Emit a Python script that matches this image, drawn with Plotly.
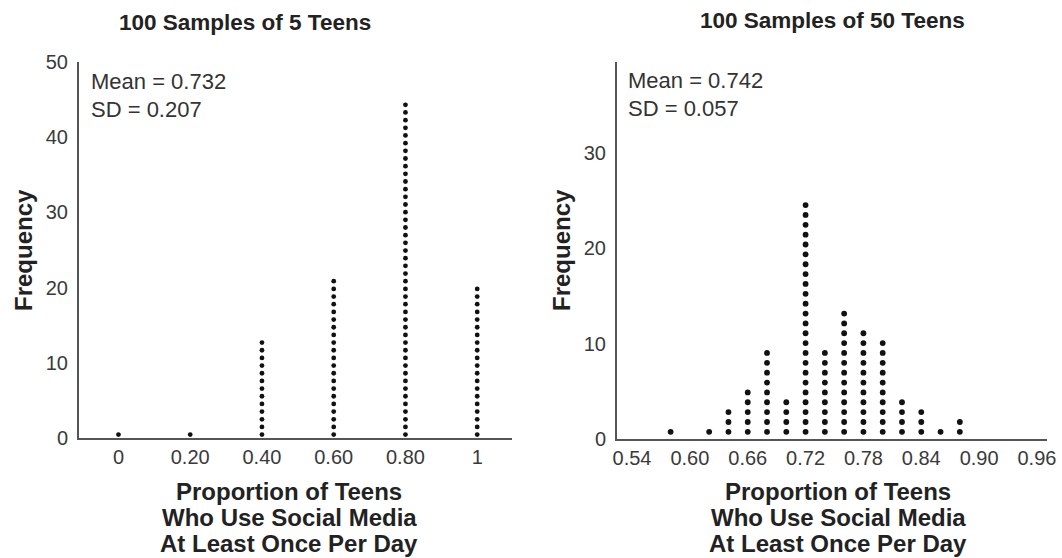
import plotly.graph_objects as go

# ---- data ----
left_x = [0.0, 0.2, 0.4, 0.6, 0.8, 1.0]
left_counts = [1, 1, 13, 21, 44, 20]
left_ticks = [0, 0.2, 0.4, 0.6, 0.8, 1.0]
left_ticklabels = ["0", "0.20", "0.40", "0.60", "0.80", "1"]

right_x = [0.58, 0.62, 0.64, 0.66, 0.68, 0.70, 0.72, 0.74, 0.76, 0.78, 0.80, 0.82, 0.84, 0.86, 0.88]
right_counts = [1, 1, 3, 5, 9, 4, 24, 9, 13, 11, 10, 4, 3, 1, 2]
right_ticks = [0.54, 0.60, 0.66, 0.72, 0.78, 0.84, 0.90, 0.96]
right_ticklabels = ["0.54", "0.60", "0.66", "0.72", "0.78", "0.84", "0.90", "0.96"]

left_yticks = [0, 10, 20, 30, 40, 50]
right_yticks = [0, 10, 20, 30]

left_title = "100 Samples of 5 Teens"
right_title = "100 Samples of 50 Teens"
left_stats = ["Mean = 0.732", "SD = 0.207"]
right_stats = ["Mean = 0.742", "SD = 0.057"]
x_title_lines = ["Proportion of Teens", "Who Use Social Media", "At Least Once Per Day"]
y_title = "Frequency"

W, H = 1062, 558


def stack(xs, counts, offset, step):
    px, py = [], []
    for x, c in zip(xs, counts):
        for k in range(c):
            px.append(x)
            py.append(offset + k * step)
    return px, py


lx, ly = stack(left_x, left_counts, 0.45, 1.02)
rx, ry = stack(right_x, right_counts, 0.75, 1.033)

fig = go.Figure()
fig.add_trace(go.Scatter(x=lx, y=ly, mode="markers", xaxis="x", yaxis="y",
                         marker=dict(color="#111", size=4.8, line=dict(width=0)),
                         showlegend=False, hoverinfo="skip"))
fig.add_trace(go.Scatter(x=rx, y=ry, mode="markers", xaxis="x2", yaxis="y2",
                         marker=dict(color="#111", size=5.8, line=dict(width=0)),
                         showlegend=False, hoverinfo="skip"))


def px2fx(p):
    return p / W


def px2fy(p):
    return 1 - p / H


FAM = "Liberation Sans, Arial, sans-serif"
tickfont = dict(family=FAM, size=20, color="#3a3a3a")
axline = dict(showline=True, linecolor="#555", linewidth=2, showgrid=False,
              zeroline=False, ticks="", tickfont=tickfont, automargin=False)

fig.update_layout(
    template="none",
    width=W, height=H, margin=dict(l=0, r=0, t=0, b=0, autoexpand=False),
    paper_bgcolor="white", plot_bgcolor="white",
    xaxis=dict(domain=[px2fx(79), px2fx(512)], range=[-0.11, 1.097],
               tickvals=left_ticks, ticktext=left_ticklabels, anchor="y",
               ticklabelstandoff=0, **axline),
    yaxis=dict(domain=[px2fy(438), px2fy(62)], range=[0, 50],
               tickvals=left_yticks, anchor="x",
               ticklabelstandoff=5, **axline),
    xaxis2=dict(domain=[px2fx(617), px2fx(1047)], range=[0.5244, 0.9704],
                tickvals=right_ticks, ticktext=right_ticklabels, anchor="y2",
                ticklabelstandoff=0, **axline),
    yaxis2=dict(domain=[px2fy(439), px2fy(62)], range=[0, 39.5],
                tickvals=right_yticks, anchor="x2",
                ticklabelstandoff=5, **axline),
)

titlefont = dict(family=FAM, size=22.5, color="#222")
axtitlefont = dict(family=FAM, size=24, color="#222")
regular = dict(family=FAM, size=22, color="#333")

ann = []
# titles
ann.append(dict(text="<b>%s</b>" % left_title, x=px2fx(245), y=px2fy(22), xref="paper", yref="paper",
                showarrow=False, font=titlefont, xanchor="center", yanchor="middle"))
ann.append(dict(text="<b>%s</b>" % right_title, x=px2fx(832), y=px2fy(21), xref="paper", yref="paper",
                showarrow=False, font=titlefont, xanchor="center", yanchor="middle"))
# stats
for s, yy in zip(left_stats, [82, 110]):
    ann.append(dict(text=s, x=px2fx(89), y=px2fy(yy), xref="paper", yref="paper",
                    showarrow=False, font=regular, xanchor="left", yanchor="middle"))
for s, yy in zip(right_stats, [80, 108]):
    ann.append(dict(text=s, x=px2fx(626), y=px2fy(yy), xref="paper", yref="paper",
                    showarrow=False, font=regular, xanchor="left", yanchor="middle"))
# x axis titles
for cx in [289, 838]:
    for line, yy in zip(x_title_lines, [491, 517, 543]):
        ann.append(dict(text="<b>%s</b>" % line, x=px2fx(cx), y=px2fy(yy), xref="paper", yref="paper",
                        showarrow=False, font=axtitlefont, xanchor="center", yanchor="middle"))
# y axis titles
for cx, cy in [(23, 250), (561, 250)]:
    ann.append(dict(text="<b>%s</b>" % y_title, x=px2fx(cx), y=px2fy(cy), xref="paper", yref="paper",
                    showarrow=False, font=axtitlefont, textangle=-90, xanchor="center", yanchor="middle"))

fig.update_layout(annotations=ann)
fig.write_html("out.html", config={"displayModeBar": False},
               post_script="document.body.style.margin='0px';document.body.style.overflow='hidden';")
